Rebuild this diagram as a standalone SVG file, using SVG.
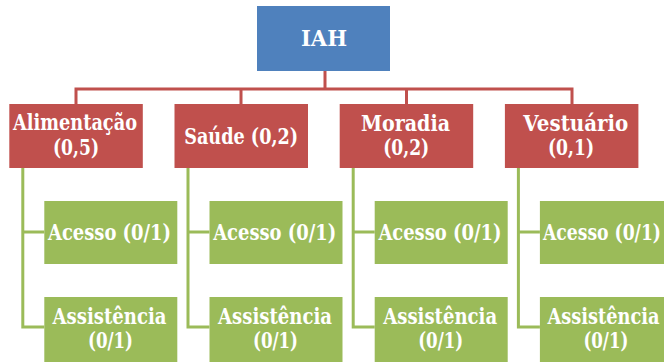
<svg xmlns="http://www.w3.org/2000/svg" width="664" height="362" viewBox="0 0 664 362">
<style>
.top{fill:#4F81BD}
.cat{fill:#C0504D}
.sub{fill:#9BBB59}
.t{font-family:'DejaVu Serif','Liberation Serif',serif;font-weight:bold;font-size:22px;fill:#FFFFFF;text-anchor:middle}
.rl{stroke:#C0504D;stroke-width:3;fill:none}
.gl{stroke:#9BBB59;stroke-width:3;fill:none}
</style>
<rect width="664" height="362" fill="#FFFFFF"/>
<g id="connectors">
<path class="rl" d="M325 71V89M76 104V89H572V104M241 89V104M406.5 89V104"/>
<path class="gl" d="M22.8 168V327H44.3M22.8 232H44.3"/>
<path class="gl" d="M188 168V327H209.5M188 232H209.5"/>
<path class="gl" d="M353.2 168V327H374.7M353.2 232H374.7"/>
<path class="gl" d="M518.4 168V327H539.9M518.4 232H539.9"/>
</g>
<g id="iah"><rect class="top" x="257" y="6" width="133" height="65"/><text class="t" x="324" y="46" textLength="46" lengthAdjust="spacingAndGlyphs">IAH</text></g>
<g id="alimentacao"><rect class="cat" x="9.3" y="104" width="133.5" height="64"/><text class="t" x="75" y="130" textLength="124" lengthAdjust="spacingAndGlyphs">Alimentação</text><text class="t" x="76" y="155" textLength="46" lengthAdjust="spacingAndGlyphs">(0,5)</text></g>
<g id="saude"><rect class="cat" x="174.5" y="104" width="133.5" height="64"/><text class="t" x="241.2" y="144" textLength="114" lengthAdjust="spacingAndGlyphs">Saúde (0,2)</text></g>
<g id="moradia"><rect class="cat" x="339.7" y="104" width="133.5" height="64"/><text class="t" x="405.5" y="130.5" textLength="89" lengthAdjust="spacingAndGlyphs">Moradia</text><text class="t" x="406.2" y="155" textLength="46" lengthAdjust="spacingAndGlyphs">(0,2)</text></g>
<g id="vestuario"><rect class="cat" x="504.9" y="104" width="133.5" height="64"/><text class="t" x="575.8" y="130.5" textLength="105" lengthAdjust="spacingAndGlyphs">Vestuário</text><text class="t" x="571" y="155" textLength="46" lengthAdjust="spacingAndGlyphs">(0,1)</text></g>
<g id="acesso1"><rect class="sub" x="44.3" y="201" width="133" height="63"/><text class="t" x="109.5" y="240" textLength="123" lengthAdjust="spacingAndGlyphs">Acesso (0/1)</text></g>
<g id="acesso2"><rect class="sub" x="209.5" y="201" width="133" height="63"/><text class="t" x="274.7" y="240" textLength="123" lengthAdjust="spacingAndGlyphs">Acesso (0/1)</text></g>
<g id="acesso3"><rect class="sub" x="374.7" y="201" width="133" height="63"/><text class="t" x="439.9" y="240" textLength="123" lengthAdjust="spacingAndGlyphs">Acesso (0/1)</text></g>
<g id="acesso4"><rect class="sub" x="539.9" y="201" width="133" height="63"/><text class="t" x="602" y="240" textLength="118" lengthAdjust="spacingAndGlyphs">Acesso (0/1)</text></g>
<g id="assist1"><rect class="sub" x="44.3" y="297" width="133" height="65"/><text class="t" x="109.5" y="324" textLength="114" lengthAdjust="spacingAndGlyphs">Assistência</text><text class="t" x="110.5" y="348" textLength="45" lengthAdjust="spacingAndGlyphs">(0/1)</text></g>
<g id="assist2"><rect class="sub" x="209.5" y="297" width="133" height="65"/><text class="t" x="275" y="324" textLength="114" lengthAdjust="spacingAndGlyphs">Assistência</text><text class="t" x="275.5" y="348" textLength="45" lengthAdjust="spacingAndGlyphs">(0/1)</text></g>
<g id="assist3"><rect class="sub" x="374.7" y="297" width="133" height="65"/><text class="t" x="440.2" y="324" textLength="114" lengthAdjust="spacingAndGlyphs">Assistência</text><text class="t" x="440.7" y="348" textLength="45" lengthAdjust="spacingAndGlyphs">(0/1)</text></g>
<g id="assist4"><rect class="sub" x="539.9" y="297" width="133" height="65"/><text class="t" x="603.5" y="324" textLength="112" lengthAdjust="spacingAndGlyphs">Assistência</text><text class="t" x="605.9" y="348" textLength="45" lengthAdjust="spacingAndGlyphs">(0/1)</text></g>
</svg>
